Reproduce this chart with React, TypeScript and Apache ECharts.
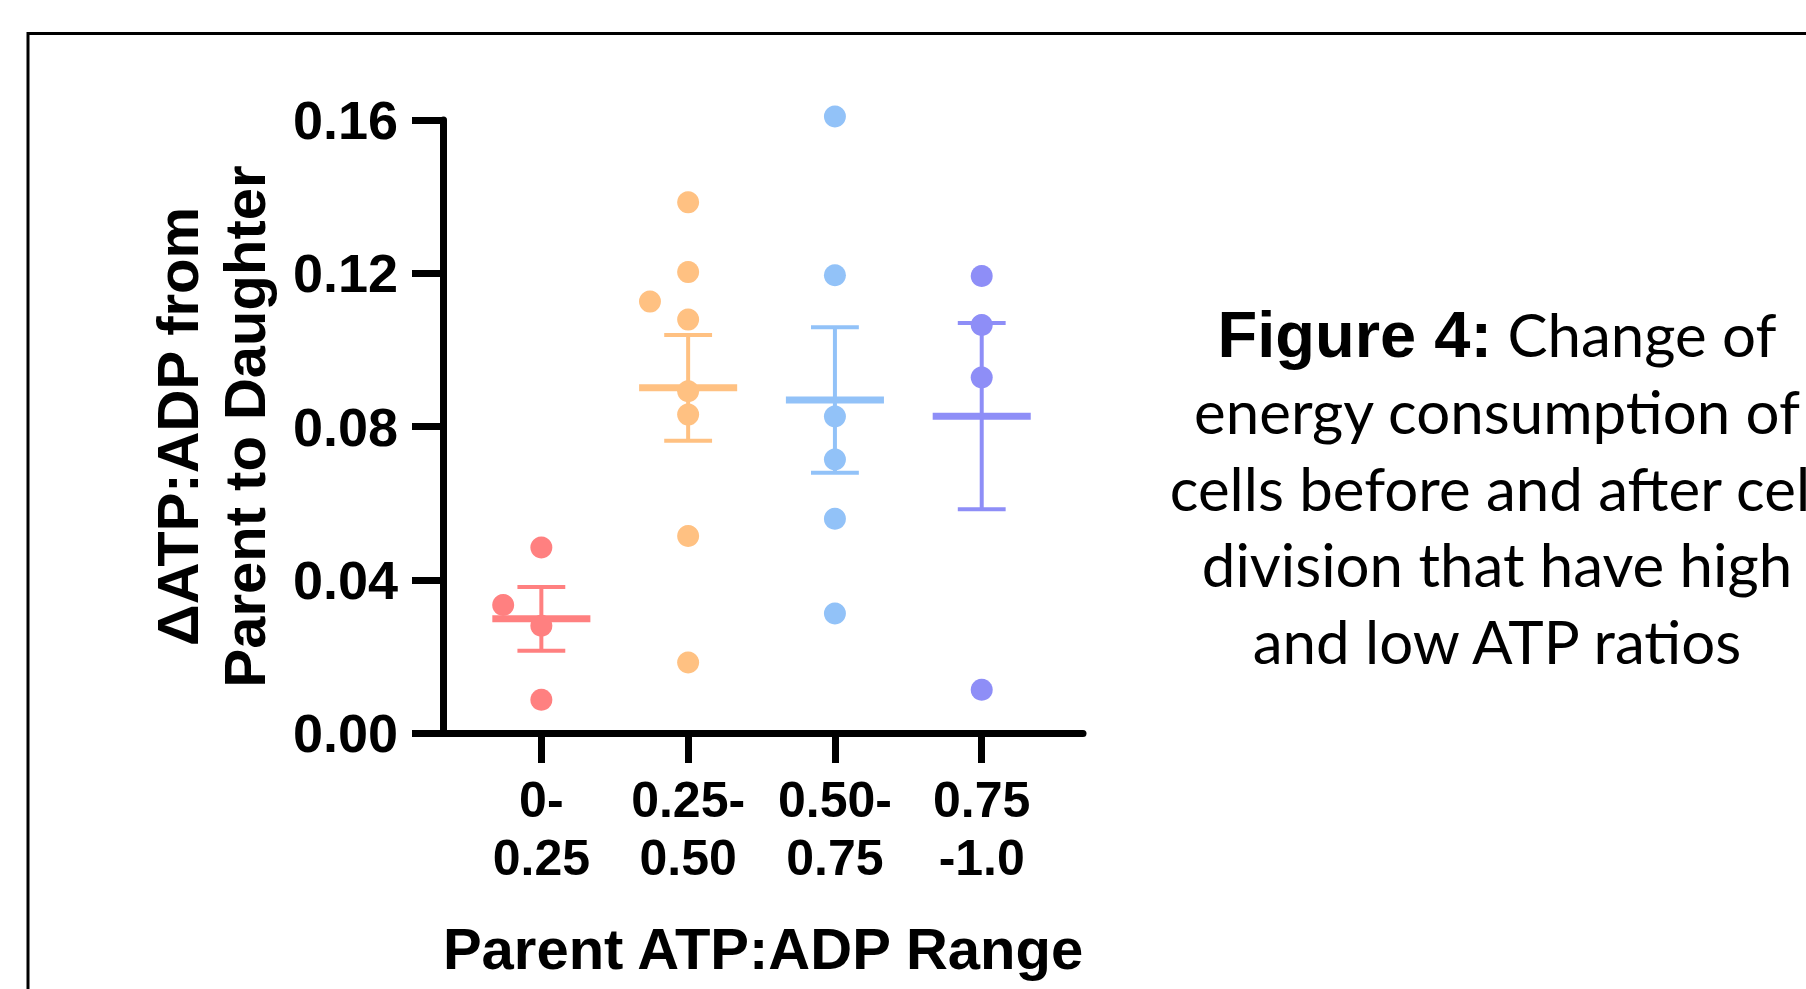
import React, { useEffect, useRef } from "react";
import * as echarts from "echarts";

const categories = ["0-\n0.25", "0.25-\n0.50", "0.50-\n0.75", "0.75\n-1.0"];
const groupPositions = [1, 2, 3, 4];
const groupColors = ["#FF8080", "#FFC182", "#92C2F8", "#8E8EF7"];

const redValues = [0.0484, 0.0334, 0.028, 0.0087];
const redJitter = [0, -0.26, 0, 0];
const orangeValues = [0.1385, 0.1203, 0.1126, 0.1079, 0.0892, 0.0831, 0.0514, 0.0184];
const orangeJitter = [0, 0, -0.26, 0, 0, 0, 0, 0];
const blueValues = [0.1609, 0.1195, 0.0826, 0.0714, 0.0559, 0.0312];
const blueJitter = [0, 0, 0, 0, 0, 0];
const purpleValues = [0.1193, 0.1065, 0.0928, 0.0113];
const purpleJitter = [0, 0, 0, 0];

const means = [0.0298, 0.0901, 0.0869, 0.0827];
const sems = [0.0083, 0.0138, 0.019, 0.0243];

const yTitle = "\u0394ATP:ADP from\nParent to Daughter";
const xTitle = "Parent ATP:ADP Range";
const captionLines = [
  "energy consumption of",
  "cells before and after cell",
  "division that have high",
  "and low ATP ratios",
];

const BOLD = "'Liberation Sans', Arial, sans-serif";
const CAPTION = "Lato, 'Open Sans', sans-serif";

export default function App() {
  const ref = useRef<HTMLDivElement>(null);
  useEffect(() => {
    if (!ref.current) return;
    const chart = echarts.init(ref.current, null, { renderer: "svg" });
    const groups = [
      { v: redValues, j: redJitter },
      { v: orangeValues, j: orangeJitter },
      { v: blueValues, j: blueJitter },
      { v: purpleValues, j: purpleJitter },
    ];
    const scatterSeries = groups.map((g, gi) => ({
      type: "scatter",
      z: 3,
      clip: false,
      symbol: "circle",
      symbolSize: 22,
      itemStyle: { color: groupColors[gi], opacity: 1 },
      data: g.v.map((v, k) => [groupPositions[gi] + g.j[k], v]),
    }));
    const errData = means.map((m, i) => [groupPositions[i], m, sems[i]]);
    const meanHalf = 0.334;
    const capHalf = 0.163;
    const option: any = {
      animation: false,
      backgroundColor: "#ffffff",
      grid: {
        left: 443,
        top: 120,
        right: 1806 - 1083,
        bottom: 989 - 733,
        containLabel: false,
        outerBoundsMode: "none",
      },
      xAxis: {
        type: "value",
        min: 0.33,
        max: 4.69,
        splitLine: { show: false },
        axisLine: { show: true, onZero: false, lineStyle: { color: "#000", width: 7 } },
        axisTick: {
          show: true,
          customValues: groupPositions,
          length: 30,
          lineStyle: { color: "#000", width: 7 },
        },
        axisLabel: {
          customValues: groupPositions,
          formatter: (v: number) => categories[Math.round(v) - 1] ?? "",
          fontFamily: BOLD,
          fontWeight: "bold",
          fontSize: 50,
          lineHeight: 58,
          color: "#000",
          margin: 38,
        },
        name: xTitle,
        nameLocation: "middle",
        nameGap: 186,
        nameTextStyle: {
          fontFamily: BOLD,
          fontWeight: "bold",
          fontSize: 58,
          lineHeight: 58,
          color: "#000",
        },
      },
      yAxis: {
        type: "value",
        min: 0,
        max: 0.16,
        interval: 0.04,
        splitLine: { show: false },
        axisLine: { show: true, lineStyle: { color: "#000", width: 7 } },
        axisTick: { show: true, length: 31, lineStyle: { color: "#000", width: 7 } },
        axisLabel: {
          formatter: (v: number) => v.toFixed(2),
          fontFamily: BOLD,
          fontWeight: "bold",
          fontSize: 54,
          color: "#000",
          margin: 45,
        },
        name: yTitle,
        nameLocation: "middle",
        nameRotate: 90,
        nameGap: 165,
        nameTextStyle: {
          fontFamily: BOLD,
          fontWeight: "bold",
          fontSize: 58,
          lineHeight: 67,
          color: "#000",
          align: "center",
        },
      },
      series: [
        {
          type: "custom",
          z: 2,
          clip: false,
          data: errData,
          renderItem: (params: any, api: any) => {
            const x = api.value(0);
            const m = api.value(1);
            const s = api.value(2);
            const color = groupColors[params.dataIndex];
            const top = api.coord([x, m + s]);
            const bot = api.coord([x, m - s]);
            const mL = api.coord([x - meanHalf, m]);
            const mR = api.coord([x + meanHalf, m]);
            const cL = api.coord([x - capHalf, m]);
            const cR = api.coord([x + capHalf, m]);
            return {
              type: "group",
              children: [
                {
                  type: "line",
                  shape: { x1: top[0], y1: top[1], x2: bot[0], y2: bot[1] },
                  style: { stroke: color, lineWidth: 4 },
                },
                {
                  type: "line",
                  shape: { x1: cL[0], y1: top[1], x2: cR[0], y2: top[1] },
                  style: { stroke: color, lineWidth: 4 },
                },
                {
                  type: "line",
                  shape: { x1: cL[0], y1: bot[1], x2: cR[0], y2: bot[1] },
                  style: { stroke: color, lineWidth: 4 },
                },
                {
                  type: "line",
                  shape: { x1: mL[0], y1: mL[1], x2: mR[0], y2: mR[1] },
                  style: { stroke: color, lineWidth: 7 },
                },
              ],
            };
          },
        },
        ...scatterSeries,
      ],
      graphic: [
        {
          type: "rect",
          z: -10,
          shape: { x: 28, y: 33.5, width: 2000, height: 2000 },
          style: { fill: "none", stroke: "#000", lineWidth: 3 },
        },
        {
          type: "text",
          x: 1497,
          y: 334,
          style: {
            text: "{b|Figure 4:}{r|\u00a0Change of}",
            align: "center",
            verticalAlign: "middle",
            rich: {
              b: { fontFamily: BOLD, fontWeight: "bold", fontSize: 65, fill: "#000" },
              r: { fontFamily: CAPTION, fontSize: 60, fill: "#000" },
            },
            fill: "#000",
          },
        },
        ...captionLines.map((t, i) => ({
          type: "text",
          x: 1497,
          y: 411 + i * 76.7,
          style: {
            text: t,
            align: "center",
            verticalAlign: "middle",
            fontFamily: CAPTION,
            fontSize: 60,
            fill: "#000",
          },
        })),
      ],
    };
    chart.setOption(option);
    return () => chart.dispose();
  }, []);
  return (
    <div
      ref={ref}
      style={{ position: "fixed", left: 0, top: 0, width: 1806, height: 989, background: "#fff" }}
    />
  );
}
